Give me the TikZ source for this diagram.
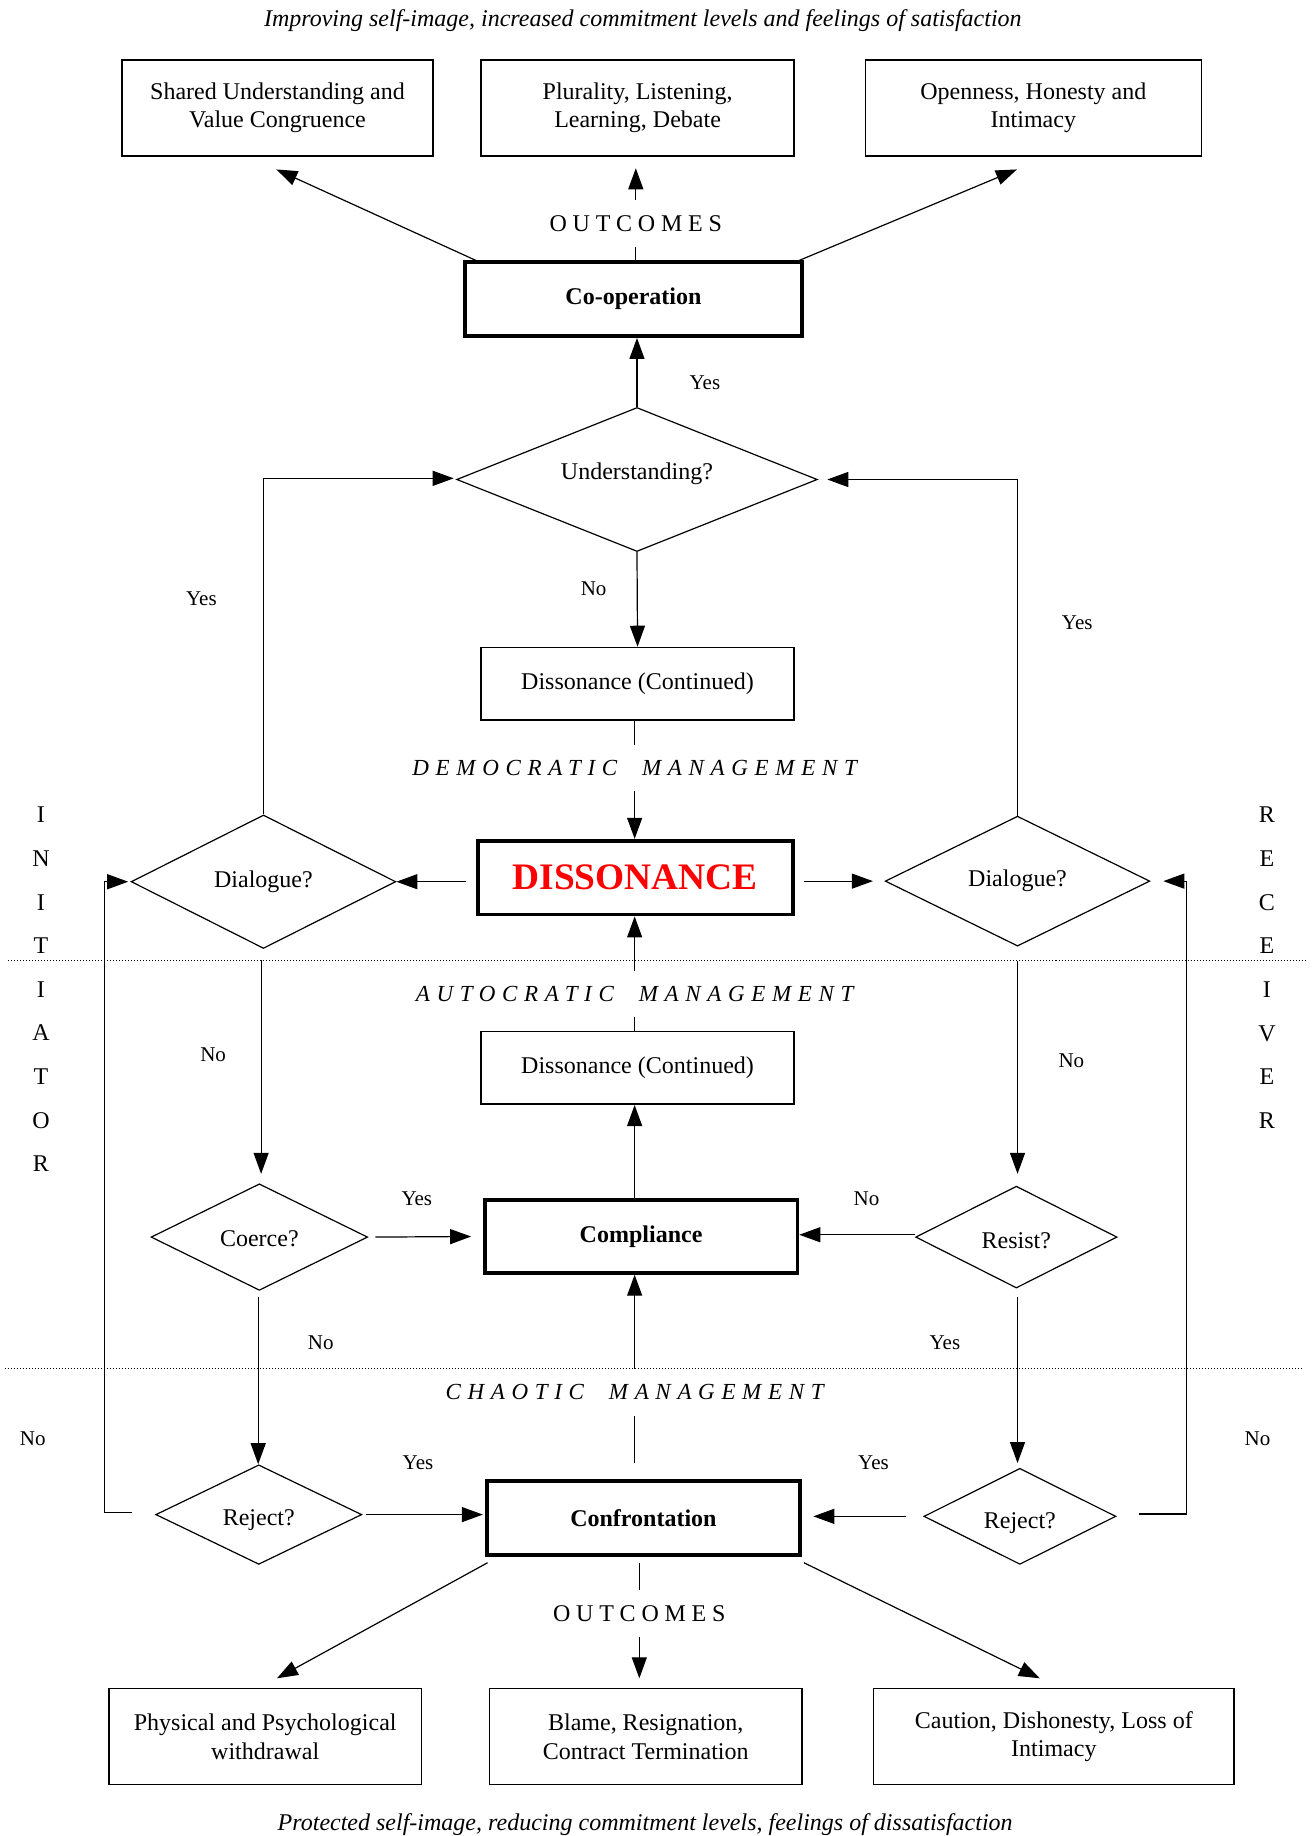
\documentclass[tikz,border=0pt]{standalone}
\usepackage{fontspec}
\setmainfont{Liberation Serif}
\usetikzlibrary{shapes.geometric,arrows.meta,calc}
\def\uu{0.5853pt}
\newcommand\shiftText[2]{\raisebox{#1}[\height][\depth]{#2}}
\tikzset{
  sz/.style 2 args={minimum width=#1*\uu, minimum height=#2*\uu},
  box/.style={draw, line width=0.8pt, inner sep=0pt, align=center, font=\fontsize{12}{14.3}\selectfont},
  tbox/.style={draw, line width=1.9pt, inner sep=0pt, align=center, font=\fontsize{12}{14}\selectfont\bfseries},
  dia/.style={diamond, draw, line width=0.6pt, inner sep=0pt, shape aspect=2, font=\fontsize{12}{14}\selectfont},
  gaplab/.style={inner xsep=0pt, inner ysep=7.6pt, font=\fontsize{11.5}{13}\selectfont\itshape\addfontfeature{LetterSpace=29}},
  outlab/.style={inner xsep=0pt, inner ysep=7.6pt, font=\fontsize{12}{14}\selectfont\addfontfeature{LetterSpace=24}},
  lab/.style={inner sep=0pt, font=\fontsize{10.5}{12}\selectfont},
  sidetext/.style={inner sep=0pt, font=\fontsize{12}{14}\selectfont},
  captext/.style={inner sep=0pt, font=\fontsize{12}{14}\selectfont\itshape},
  conn/.style={line width=0.6pt},
  arr/.style={line width=0.6pt, -{Triangle[length=10.5pt,width=7.5pt]}},
  sepline/.style={line width=0.5pt, densely dotted}
}
\begin{document}
\begin{tikzpicture}[x=\uu, y=-\uu]
\useasboundingbox (0,0) rectangle (1120,1568);

% captions
\node[captext] (topcap) at (549,18) {Improving self-image, increased commitment levels and feelings of satisfaction};
\node[captext] (botcap) at (551,1558) {Protected self-image, reducing commitment levels, feelings of dissatisfaction};

% top outcome boxes
\node[box, sz={266}{82}] (o1) at (237,92) {Shared Understanding and\\Value Congruence};
\node[box, sz={267}{82}] (o2) at (544.5,92) {Plurality, Listening,\\Learning, Debate};
\node[box, sz={287}{82}] (o3) at (882.5,92) {Openness, Honesty and\\Intimacy};
\node[outlab] (outA) at (543,191) {OUTCOMES};

\node[tbox, sz={288}{63}] (coop) at (541,255.5) {Co-operation};
\node[dia, sz={308}{123}] (und) at (544,409.5) {\shiftText{3pt}{Understanding?}};
\node[box, sz={267}{62}] (dc1) at (544.5,584) {Dissonance (Continued)};
\node[gaplab] (demo) at (542,656) {DEMOCRATIC\ \ MANAGEMENT};
\node[tbox, sz={269}{63}, text=red, font=\fontsize{18.7}{22}\selectfont\bfseries] (diss) at (542.5,749.5) {DISSONANCE};
\node[dia, sz={226}{114}] (dl) at (225,753) {Dialogue?};
\node[dia, sz={226}{111}] (dr) at (869,752.5) {Dialogue?};
\node[gaplab] (auto) at (542,849) {AUTOCRATIC\ \ MANAGEMENT};
\node[box, sz={267}{62}] (dc2) at (544.5,912) {Dissonance (Continued)};
\node[tbox, sz={267}{62}] (comp) at (547.5,1056) {Compliance};
\node[dia, sz={185}{91}] (coerce) at (221.5,1056.5) {\shiftText{-1pt}{Coerce?}};
\node[dia, sz={172}{87}] (resist) at (868,1056.5) {\shiftText{-2pt}{Resist?}};
\node[gaplab] (chaos) at (542,1189) {CHAOTIC\ \ MANAGEMENT};
\node[tbox, sz={267}{63}] (conf) at (549.5,1296.5) {Confrontation};
\node[dia, sz={176}{85}] (rjl) at (221,1293.5) {\shiftText{-3pt}{Reject?}};
\node[dia, sz={164}{82}] (rjr) at (871,1295) {\shiftText{-3.5pt}{Reject?}};
\node[outlab] (outB) at (546,1378) {OUTCOMES};

% bottom outcome boxes
\node[box, sz={267}{82}] (b1) at (226.5,1483) {Physical and Psychological\\withdrawal};
\node[box, sz={267}{82}] (b2) at (551.5,1483) {Blame, Resignation,\\Contract Termination};
\node[box, sz={308}{82}] (b3) at (900,1483) {Caution, Dishonesty, Loss of\\Intimacy};

% separators
\coordinate (s1a) at (7,820); \coordinate (s1b) at (1115,820);
\coordinate (s2a) at (4,1169); \coordinate (s2b) at (1112,1169);
\draw[sepline] (s1a) -- (s1b);
\draw[sepline] (s2a) -- (s2b);

% side words
\foreach \c [count=\i from 0] in {I,N,I,T,I,A,T,O,R}
  \node[sidetext] (ini\i) at (35,{696+37.25*\i}) {\c};
\foreach \c [count=\i from 0] in {R,E,C,E,I,V,E,R}
  \node[sidetext] (rec\i) at (1082,{696+37.3*\i}) {\c};

% labels
\node[lab] (l1) at (602,327) {Yes};
\node[lab] (l2) at (507,503) {No};
\node[lab] (l3) at (172,511) {Yes};
\node[lab] (l4) at (920,532) {Yes};
\node[lab] (l5) at (182,901) {No};
\node[lab] (l6) at (915,906) {No};
\node[lab] (l7) at (356,1024) {Yes};
\node[lab] (l8) at (740,1024) {No};
\node[lab] (l9) at (274,1147) {No};
\node[lab] (l10) at (807,1147) {Yes};
\node[lab] (l11) at (28,1229) {No};
\node[lab] (l12) at (1074,1229) {No};
\node[lab] (l13) at (357,1249) {Yes};
\node[lab] (l14) at (746,1249) {Yes};

% top connectors
\draw[arr] ($(coop.north west)+(11,0)$) -- ($(o1.south)+(-1,11)$);
\draw[conn] (coop.north -| outA) -- (outA.south);
\draw[arr] (outA.north) -- ($(o2.south -| outA)+(0,10)$);
\draw[arr] ($(coop.north east)+(-4,0)$) -- ($(o3.south)+(-14,11)$);

\draw[arr] (und.north) -- (und.north |- coop.south);
\draw[arr] (und.south) -- (dc1.north);
\draw[conn] (dc1.south -| demo) -- (demo.north);
\draw[arr] (demo.south) -- (diss.north -| demo);

\draw[arr] ($(diss.west |- dl.east)+(-8,0)$) -- (dl.east);
\draw[arr] ($(diss.east |- dr.west)+(8,0)$) -- ($(dr.west)+(-10,0)$);
\draw[arr] (dl.north) |- ($(und.west)+(-2,-1)$);
\draw[arr] (dr.north) |- ($(und.east)+(8,0)$);

% autocratic
\draw[arr] ($(dl.south)+(-2,9)$) -- ($(dl.south |- coerce.north)+(-2,-8)$);
\draw[arr] ($(dr.south)+(0,12)$) -- ($(dr.south |- resist.north)+(0,-10)$);
\draw[arr] ($(coerce.east)+(6,0)$) -- ($(comp.west)+(-10,0)$);
\draw[arr] ($(resist.west)+(0,-2)$) -- ($(resist.west -| comp.east)+(0,-2)$);
\draw[arr] (comp.north -| auto) -- (dc2.south -| auto);
\draw[conn] (dc2.north -| auto) -- (auto.south);
\draw[arr] (auto.north) -- (diss.south -| auto);

% chaotic
\draw[conn] ($(conf.north -| chaos)+(0,-14)$) -- (chaos.south);
\draw[arr] (chaos.north) -- (comp.south -| chaos);
\draw[arr] ($(coerce.south)+(-1,5)$) -- ($(coerce.south |- rjl.north)+(-1,0)$);
\draw[arr] ($(resist.south)+(1,7)$) -- ($(resist.south |- rjr.north)+(1,-4)$);
\draw[arr] ($(rjl.east)+(3,0)$) -- ($(rjl.east -| conf.west)+(-2,0)$);
\draw[arr] ($(rjr.west)+(-15,0)$) -- ($(rjr.west -| conf.east)+(10,0)$);
\draw[arr] ($(rjl.west)+(-20,-2)$) -- ++(-23,0) |- ($(dl.west)+(-2,0)$);
\draw[arr] ($(rjr.east)+(19,-2)$) -- ++(41,0) |- ($(dr.east)+(11,0)$);

% bottom outcomes
\draw[arr] ($(conf.south west)+(2,5)$) -- ($(b1.north)+(10,-8)$);
\draw[conn] ($(conf.south -| outB)+(0,5)$) -- (outB.north);
\draw[arr] (outB.south) -- ($(b2.north -| outB)+(0,-8)$);
\draw[arr] ($(conf.south east)+(2,5)$) -- ($(b3.north)+(-12,-8)$);
\end{tikzpicture}
\end{document}
